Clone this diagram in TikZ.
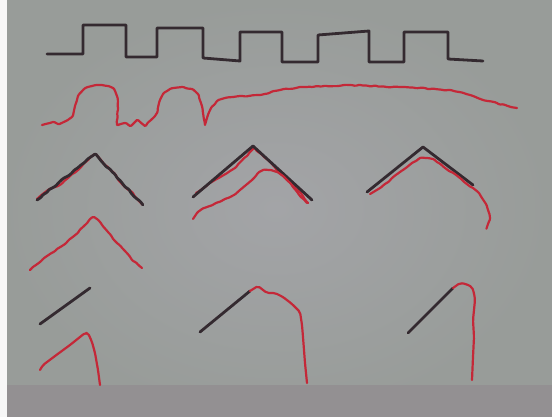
\documentclass[tikz,border=0pt]{standalone}
\usepackage{tikz}
\usepackage{xcolor}
\usetikzlibrary{decorations.pathmorphing}
\definecolor{paper}{RGB}{152,156,153}
\definecolor{paperlight}{RGB}{163,164,167}
\definecolor{table}{RGB}{147,144,146}
\definecolor{inkblack}{RGB}{52,42,48}
\definecolor{inkred}{RGB}{196,40,56}
\tikzset{
    blackink/.style={
        draw=inkblack,
        line width=2.8pt,
        line cap=round,
        line join=round
    },
    redink/.style={
        draw=inkred,
        line width=2.2pt,
        line cap=round,
        line join=round
    },
    shaky/.style={
        decorate,
        decoration={random steps, segment length=4pt, amplitude=0.7pt},
        rounded corners=1pt
    }
}

\begin{document}
\begin{tikzpicture}[x=1pt, y=-1pt]
        \pgfmathsetseed{11}

        % background: paper, white edge, table
        \useasboundingbox (0,0) rectangle (552,417);
        \shade [inner color=paperlight, outer color=paper] (0,0) rectangle (552,417);
        \fill [table] (0,385) rectangle (552,417);
        \fill [white!92!paper] (0,0) rectangle (7,417);

        % square wave
        \draw [blackink] (47,54) -- (83,54) -- (83,25) -- (126,25) -- (126,57) -- (157,57)
            -- (157,28) -- (203,28) -- (203,58) -- (240,61) -- (240,32) -- (282,32)
            -- (282,62) -- (318,62) -- (318,35) -- (369,31) -- (369,62) -- (404,62)
            -- (404,32) -- (448,32) -- (448,59) -- (483,61);

        % red response to the square wave
        \draw [redink, shaky] plot coordinates {(42,125) (53,122) (58,124) (66,121) (72,117)
            (75,106) (78,96) (84,89) (92,86) (100,85) (108,86) (113,88) (117,96) (118,108)
            (117,125) (125,123) (130,126) (137,120) (145,126) (151,120) (157,113) (159,103)
            (163,94) (170,89) (182,87) (192,89) (198,94) (201,103) (203,113) (205,125)
            (207,118) (211,108) (217,101) (225,98) (233,97) (260,95) (280,90) (300,87)
            (350,85) (400,87) (450,90) (470,95) (483,100) (517,108)};

        % first chevron
        \draw [redink, shaky] plot coordinates {(37,199) (48,190) (58,186) (68,178)
            (78,170) (88,160) (95,154) (104,164) (113,172) (122,184) (132,192) (138,200) (143,205)};
        \draw [blackink, shaky] (37,200) -- (95,154) -- (143,205);
        \draw [redink, shaky] plot coordinates {(30,270) (40,262) (50,254) (62,246)
            (74,236) (84,226) (90,219) (93,217) (97,219) (100,222) (108,232) (116,242)
            (124,250) (132,260) (142,268)};

        % second chevron
        \draw [redink, shaky] plot coordinates {(196,193) (215,180) (235,168)
            (250,152) (254,148) (268,160) (285,178) (300,192) (308,203)};
        \draw [blackink] (193,197) -- (253,146) -- (312,200);
        \draw [redink, shaky] plot coordinates {(193,219) (197,213) (202,209) (207,207)
            (216,203) (225,199) (234,195) (240,190) (246,185) (252,180) (258,173) (263,170)
            (270,170) (277,172) (283,176) (287,180) (293,187) (300,196) (307,203)};

        % third chevron
        \draw [blackink] (367,192) -- (423,147) -- (473,185);
        \draw [redink, shaky] plot coordinates {(370,194) (385,184) (400,172)
            (412,163) (420,158) (427,158) (433,159) (445,168) (460,178) (473,188) (478,192)
            (482,198) (486,204) (488,210) (490,218) (488,224) (485,228)};

        % bottom left: segment and response
        \draw [blackink] (40,324) -- (90,288);
        \draw [redink, rounded corners=2pt] (40,370) -- (43,365) -- (55,356) -- (70,345)
            -- (85,333) -- (88,333) -- (92,342) -- (95,353) -- (98,370) -- (100,385);

        % bottom middle
        \draw [blackink] (200,332) -- (250,291);
        \draw [redink, rounded corners=2pt] (250,291) -- (258,286) -- (263,290)
            -- (267,293) -- (275,293) -- (283,297) -- (292,304) -- (300,312) -- (302,325)
            -- (303,337) -- (305,363) -- (307,383);

        % bottom right
        \draw [blackink] (408,333) -- (453,288);
        \draw [redink, rounded corners=2pt] (453,288) -- (460,283) -- (466,284)
            -- (472,287) -- (474,293) -- (475,300) -- (473,320) -- (474,337) -- (473,357)
            -- (472,380);

    \end{tikzpicture}
\end{document}
